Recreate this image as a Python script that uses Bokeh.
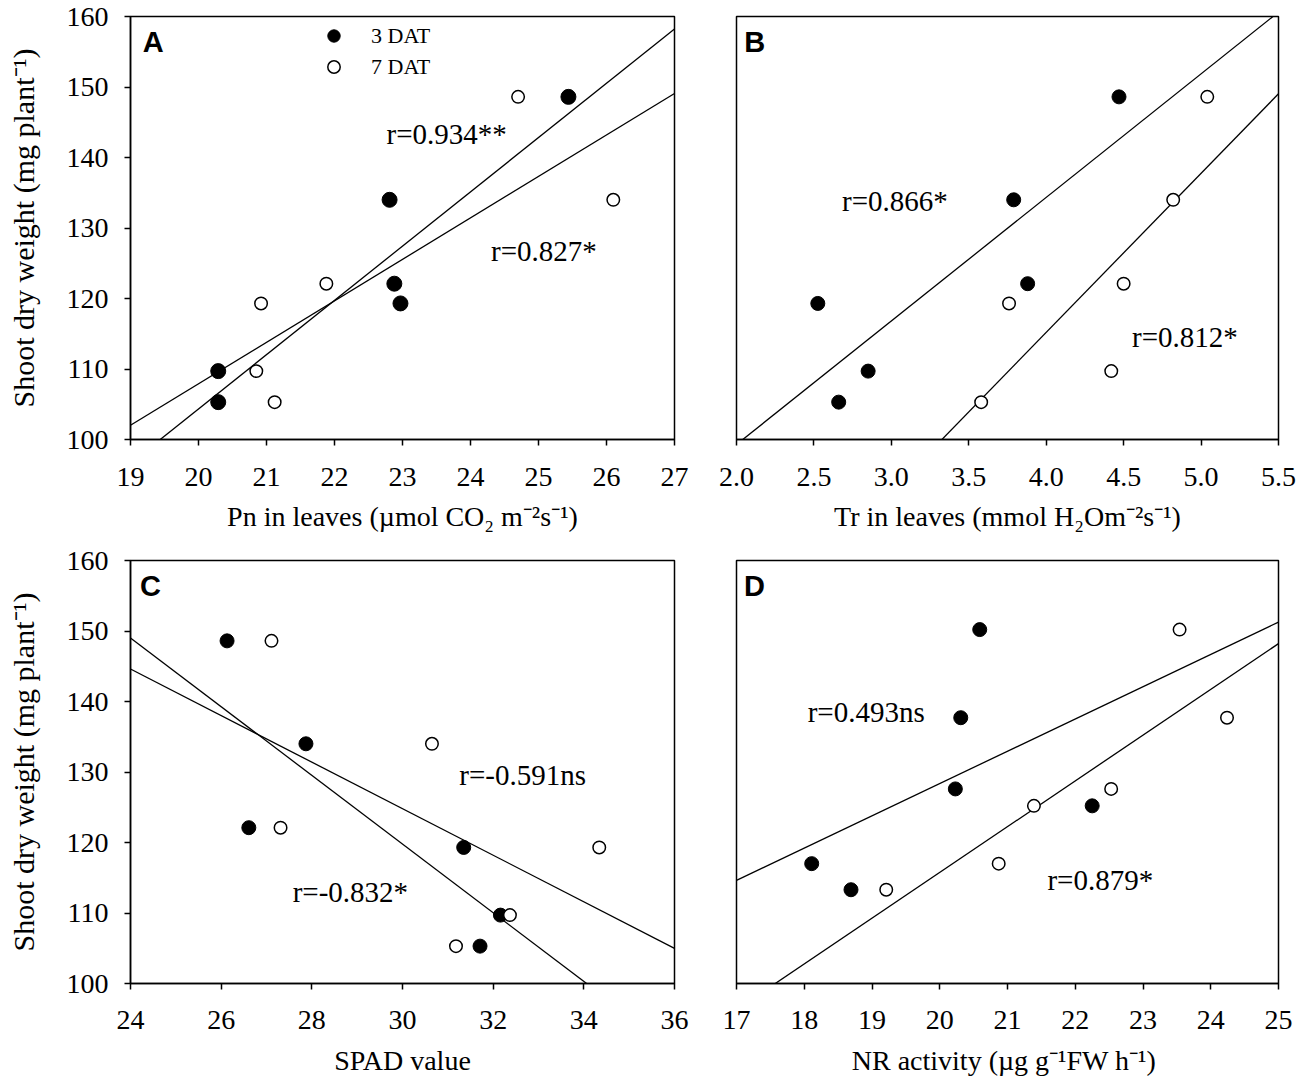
import numpy as np
from bokeh.plotting import figure
from bokeh.models import Label, Legend, LegendItem, FixedTicker, NumeralTickFormatter, Range1d
from bokeh.layouts import row, column
from bokeh.embed import file_html
from bokeh.resources import INLINE

SERIF = "Liberation Serif"
SANS = "Liberation Sans"

# ---------------- data ----------------
# shoot dry weight (mg plant-1), same order for 3 DAT and 7 DAT points
sdw_abc = [148.6, 134.0, 122.1, 119.3, 109.7, 105.3]
sdw_d = [150.2, 137.7, 127.6, 125.2, 117.0, 113.3]

pn_3dat = [25.44, 22.81, 22.88, 22.97, 20.29, 20.29]
pn_7dat = [24.70, 26.10, 21.88, 20.92, 20.85, 21.12]

tr_3dat = [4.47, 3.79, 3.88, 2.525, 2.85, 2.66]
tr_7dat = [5.04, 4.82, 4.50, 3.76, 4.42, 3.58]

spad_3dat = [26.13, 27.87, 26.61, 31.35, 32.16, 31.71]
spad_7dat = [27.11, 30.65, 27.31, 34.34, 32.37, 31.18]

nr_3dat = [20.59, 20.31, 20.23, 22.25, 18.11, 18.69]
nr_7dat = [23.54, 24.24, 22.53, 21.39, 20.87, 19.21]

y_ticks = [100, 110, 120, 130, 140, 150, 160]
a_ticks = [19, 20, 21, 22, 23, 24, 25, 26, 27]
b_ticks = [2.0, 2.5, 3.0, 3.5, 4.0, 4.5, 5.0, 5.5]
c_ticks = [24, 26, 28, 30, 32, 34, 36]
d_ticks = [17, 18, 19, 20, 21, 22, 23, 24, 25]

series_labels = ["3 DAT", "7 DAT"]
y_title = "Shoot dry weight (mg plant\u207b\u00b9)"

# ---------------- layout constants ----------------
FH = 423
FWS = [544, 542]
ROW_B = [dict(min_border_top=16, min_border_bottom=106), dict(min_border_top=15, min_border_bottom=97)]
COL_B = [dict(min_border_left=130, min_border_right=31), dict(min_border_left=31, min_border_right=20)]
TICK_STANDOFF = [22, 21]
XLAB_STANDOFF = [12, 13]


def make_panel(r, c, xs3, xs7, ys, xticks, xlabel, letter, letter_pos, rlabels,
               fmt=None, filled_size=14, legend=False):
    w = FWS[c] + COL_B[c]["min_border_left"] + COL_B[c]["min_border_right"]
    h = FH + ROW_B[r]["min_border_top"] + ROW_B[r]["min_border_bottom"]
    p = figure(width=w, height=h, output_backend="svg", toolbar_location=None,
               x_range=Range1d(xticks[0], xticks[-1]), y_range=Range1d(y_ticks[0], y_ticks[-1]),
               **ROW_B[r], **COL_B[c])
    p.background_fill_color = "white"
    p.border_fill_color = "white"
    p.outline_line_color = "black"
    p.outline_line_width = 1.5
    p.outline_line_alpha = 1.0
    p.xgrid.visible = False
    p.ygrid.visible = False

    # regression lines (least squares fit of each series)
    xr = np.array([xticks[0], xticks[-1]], dtype=float)
    for xs in (xs3, xs7):
        k, b = np.polyfit(xs, ys, 1)
        p.line(xr, k * xr + b, line_color="black", line_width=1.3)

    r3 = p.scatter(xs3, ys, size=filled_size, marker="circle", fill_color="black", line_color="black")
    r7 = p.scatter(xs7, ys, size=12.5, marker="circle", fill_color="white", line_color="black", line_width=1.5)

    xa = p.xaxis[0]
    xa.ticker = FixedTicker(ticks=xticks)
    if fmt:
        xa.formatter = NumeralTickFormatter(format=fmt)
    xa.minor_tick_line_color = None
    xa.major_tick_out = 6
    xa.major_tick_in = 0
    xa.major_tick_line_width = 1.5
    xa.axis_line_width = 1.5
    xa.major_label_text_font = SERIF
    xa.major_label_text_font_size = "28px"
    xa.major_label_text_color = "black"
    xa.major_label_standoff = TICK_STANDOFF[r]
    xa.axis_label = xlabel
    xa.axis_label_text_font = SERIF
    xa.axis_label_text_font_style = "normal"
    xa.axis_label_text_font_size = "28px"
    xa.axis_label_text_color = "black"
    xa.axis_label_standoff = XLAB_STANDOFF[r]

    ya = p.yaxis[0]
    if c == 0:
        ya.ticker = FixedTicker(ticks=y_ticks)
        ya.minor_tick_line_color = None
        ya.major_tick_out = 6
        ya.major_tick_in = 0
        ya.major_tick_line_width = 1.5
        ya.axis_line_width = 1.5
        ya.major_label_text_font = SERIF
        ya.major_label_text_font_size = "28px"
        ya.major_label_text_color = "black"
        ya.major_label_standoff = 16
        ya.axis_label = y_title
        ya.axis_label_text_font = SERIF
        ya.axis_label_text_font_style = "normal"
        ya.axis_label_text_font_size = "30px"
        ya.axis_label_text_color = "black"
        ya.axis_label_standoff = 24
    else:
        ya.visible = False

    p.add_layout(Label(x=letter_pos[0], y=letter_pos[1], text=letter, text_font=SANS,
                       text_font_style="bold", text_font_size="29px", text_color="black",
                       text_align="left", text_baseline="middle"))
    for (tx, ty, t) in rlabels:
        p.add_layout(Label(x=tx, y=ty, text=t, text_font=SERIF, text_font_size="29px",
                           text_color="black", text_align="center", text_baseline="middle"))

    if legend:
        lg = Legend(items=[LegendItem(label=series_labels[0], renderers=[r3]),
                           LegendItem(label=series_labels[1], renderers=[r7])],
                    location=(188, 357), orientation="vertical",
                    padding=0, margin=0, spacing=0,
                    glyph_width=31, glyph_height=31, label_height=31,
                    label_standoff=22, border_line_color=None,
                    background_fill_alpha=0.0,
                    label_text_font=SERIF, label_text_font_size="22px",
                    label_text_color="black")
        p.add_layout(lg)
    return p


pA = make_panel(0, 0, pn_3dat, pn_7dat, sdw_abc, a_ticks,
                "Pn in leaves (\u00b5mol CO\u2082 m\u207b\u00b2s\u207b\u00b9)",
                "A", (19.18, 156.45),
                [(23.65, 143.4, "r=0.934**"), (25.08, 126.75, "r=0.827*")],
                filled_size=15, legend=True)
pB = make_panel(0, 1, tr_3dat, tr_7dat, sdw_abc, b_ticks,
                "Tr in leaves (mmol H\u2082Om\u207b\u00b2s\u207b\u00b9)",
                "B", (2.05, 156.38),
                [(3.023, 133.84, "r=0.866*"), (4.896, 114.5, "r=0.812*")],
                fmt="0.0")
pC = make_panel(1, 0, spad_3dat, spad_7dat, sdw_abc, c_ticks,
                "SPAD value",
                "C", (24.21, 156.34),
                [(32.65, 129.57, "r=-0.591ns"), (28.85, 112.96, "r=-0.832*")])
pD = make_panel(1, 1, nr_3dat, nr_7dat, sdw_d, d_ticks,
                "NR activity  (\u00b5g g\u207b\u00b9FW h\u207b\u00b9)",
                "D", (17.11, 156.34),
                [(18.915, 138.5, "r=0.493ns"), (22.37, 114.67, "r=0.879*")])

layout = column(row(pA, pB), row(pC, pD))

open("out.html", "w").write(file_html(layout, INLINE))
